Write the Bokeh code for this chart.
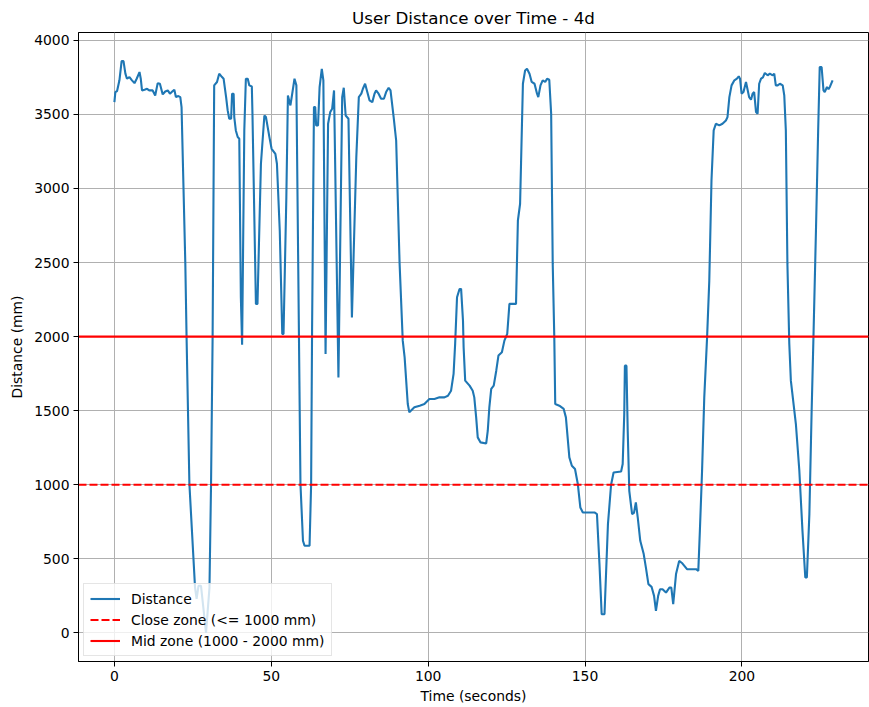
from bokeh.plotting import figure
from bokeh.models import Legend, LegendItem, FixedTicker, Range1d
from bokeh.embed import file_html
from bokeh.resources import INLINE

# ---- data ----
time_s = [
    0.0, 0.3, 0.85, 1.6, 2.3, 2.9, 3.5, 4.0, 4.8, 5.6, 6.4, 7.1, 8.0, 8.4, 8.8, 9.6,
    10.4, 11.1, 12.2, 13.0, 13.8, 14.5, 15.4, 16.2, 17.0, 17.7, 18.6, 19.1, 19.6, 20.4,
    21.0, 21.4, 22.6, 23.0, 23.9, 25.7, 26.2, 26.8, 27.6, 29.2, 30.3, 30.8, 31.3, 31.8,
    32.7, 33.4, 34.3, 34.8, 35.6, 36.1, 36.6, 37.2, 37.5, 38.0, 38.2, 38.7, 39.3, 39.8,
    40.3, 40.7, 41.4, 41.9, 42.5, 43.0, 43.8, 44.0, 45.1, 45.6, 46.7, 47.8, 48.3, 49.4,
    50.1, 51.3, 51.8, 52.7, 53.5, 53.9, 54.8, 55.3, 56.1, 57.4, 58.0, 59.3, 60.1, 60.6,
    62.2, 62.7, 63.0, 63.6, 64.0, 64.3, 64.9, 65.4, 66.1, 66.6, 67.3, 68.1, 68.8, 69.4,
    70.0, 71.4, 72.6, 73.1, 73.7, 74.6, 75.7, 77.1, 77.9, 78.7, 79.2, 79.9, 80.6, 81.3,
    82.2, 82.9, 83.4, 84.2, 85.0, 85.9, 86.6, 87.4, 88.0, 89.0, 89.8, 90.9, 91.9, 92.5,
    93.5, 94.0, 95.6, 97.3, 98.8, 100.4, 102.0, 103.6, 105.2, 106.3, 107.3, 108.1, 108.6,
    109.2, 110.0, 110.5, 111.1, 111.3, 111.8, 113.2, 114.2, 114.7, 115.3, 115.8, 116.7,
    118.5, 119.0, 119.5, 120.1, 120.9, 121.7, 122.4, 123.5, 124.3, 125.2, 125.9, 126.9,
    128.0, 128.6, 129.3, 129.6, 130.2, 130.9, 131.5, 132.3, 133.0, 133.9, 134.7, 135.1,
    135.8, 136.5, 137.3, 137.9, 138.6, 139.2, 139.7, 140.2, 140.5, 141.8, 143.2, 143.9,
    145.0, 145.8, 146.8, 147.7, 148.5, 149.3, 150.9, 153.0, 153.8, 154.6, 155.3, 156.2,
    157.3, 158.3, 159.1, 161.5, 162.0, 162.5, 162.7, 163.2, 163.6, 164.1, 165.0, 165.6,
    166.2, 166.8, 167.6, 168.7, 169.4, 170.2, 171.2, 172.0, 172.6, 173.3, 173.9, 174.7,
    175.8, 176.9, 177.5, 178.1, 179.0, 180.0, 181.0, 182.5, 184.3, 185.4, 186.1, 186.6,
    187.3, 188.0, 188.9, 189.6, 190.3, 191.0, 191.7, 192.8, 193.8, 194.9, 195.4, 196.0,
    196.7, 197.6, 198.4, 199.0, 199.4, 199.9, 200.5, 201.3, 202.3, 202.9, 203.4, 203.9,
    204.5, 205.0, 205.5, 206.1, 206.7, 207.3, 208.2, 208.9, 209.8, 210.3, 210.8, 211.4,
    212.1, 213.0, 213.5, 214.0, 214.5, 215.1, 215.6, 217.2, 218.3, 219.3, 220.2, 220.7,
    221.5, 222.2, 222.8, 223.6, 224.3, 224.8, 225.4, 226.0, 226.4, 227.1, 227.6, 228.1,
    228.9,
]
distance_mm = [
    3583, 3651, 3658, 3730, 3860, 3860, 3775, 3741, 3752, 3730, 3711, 3741, 3786, 3741, 3662, 3667,
    3673, 3662, 3662, 3628, 3711, 3707, 3635, 3655, 3662, 3640, 3658, 3667, 3617, 3624,
    3617, 3550, 2493, 1995, 1005, 306, 230, 318, 318, 0, 306, 1005, 1995, 3696,
    3719, 3775, 3752, 3741, 3617, 3527, 3471, 3471, 3640, 3640, 3482, 3392, 3347, 3336,
    2266, 1945, 3392, 3741, 3741, 3696, 3689, 3505, 2221, 2221, 3167, 3493, 3482, 3347,
    3268, 3234, 3167, 2716, 2018, 2018, 2941, 3628, 3561, 3741, 3696, 1005, 622, 588,
    588, 1005, 2041, 3550, 3550, 3426, 3426, 3685, 3808, 3730, 1883, 3437, 3516, 3538,
    3662, 1725, 3617, 3680, 3493, 3471, 2130, 3212, 3617, 3640, 3673, 3707, 3651, 3595,
    3583, 3640, 3662, 3640, 3606, 3606, 3651, 3680, 3662, 3482, 3324, 2491, 1973, 1860,
    1545, 1489, 1523, 1534, 1545, 1579, 1579, 1590, 1590, 1601, 1635, 1748, 1951,
    2266, 2322, 2322, 2108, 1928, 1703, 1669, 1635, 1590, 1455, 1320, 1286,
    1279, 1365, 1523, 1647, 1669, 1770, 1872, 1894, 1973, 2018, 2221, 2221,
    2221, 2784, 2897, 3167, 3707, 3797, 3808, 3775, 3719, 3707, 3640, 3617,
    3696, 3730, 3719, 3741, 3734, 3505, 2491, 1995, 1545, 1534, 1512, 1455,
    1185, 1128, 1106, 1005, 847, 813, 813, 813, 802, 464, 126, 126,
    734, 1000, 1083, 1090, 1140, 1478, 1804, 1804, 1365, 959, 802, 810,
    881, 779, 622, 532, 441, 329, 311, 250, 149, 250, 295, 295,
    272, 306, 306, 194, 397, 486, 470, 430, 430, 430, 419, 689,
    1095, 1590, 1995, 2378, 3054, 3392, 3437, 3426, 3437, 3459, 3482, 3617,
    3696, 3730, 3741, 3757, 3741, 3640, 3651, 3719, 3617, 3599, 3640, 3651,
    3516, 3505, 3707, 3741, 3750, 3780, 3764, 3775, 3764, 3775, 3696, 3696,
    3707, 3696, 3628, 3392, 2491, 1951, 1703, 1410, 1095, 689, 374, 374,
    802, 1478, 1995, 2716, 3392, 3820, 3820, 3662, 3651, 3685, 3670, 3689,
    3730,
]
CLOSE_LIMIT = 1000
MID_LIMIT = 2000
x_ticks = [0, 50, 100, 150, 200]
y_ticks = [0, 500, 1000, 1500, 2000, 2500, 3000, 3500, 4000]

title_text = "User Distance over Time - 4d"
x_label = "Time (seconds)"
y_label = "Distance (mm)"
label_distance = "Distance"
label_close = "Close zone (<= 1000 mm)"
label_mid = "Mid zone (1000 - 2000 mm)"

FONT = "DejaVu Sans"

# matplotlib-like 5% margins
t_span = max(time_s) - min(time_s)
d_span = max(distance_mm) - min(distance_mm)
x_range = Range1d(min(time_s) - 0.05 * t_span, max(time_s) + 0.05 * t_span)
y_range = Range1d(min(distance_mm) - 0.05 * d_span, max(distance_mm) + 0.05 * d_span)

p = figure(width=869, height=707, output_backend="svg", toolbar_location=None,
           x_range=x_range, y_range=y_range, title=title_text,
           min_border_left=78, min_border_right=1, min_border_top=32,
           min_border_bottom=46)
p.background_fill_color = "white"
p.border_fill_color = "white"
p.outline_line_color = "black"
p.outline_line_width = 1

p.title.align = "center"
p.title.text_font = FONT
p.title.text_font_size = "16.7px"
p.title.text_font_style = "normal"
p.title.text_color = "black"

for ax in (p.xaxis[0], p.yaxis[0]):
    ax.axis_line_color = "black"
    ax.major_tick_line_color = "black"
    ax.major_tick_out = 5
    ax.major_tick_in = 0
    ax.minor_tick_line_color = None
    ax.major_label_text_font = FONT
    ax.major_label_text_font_size = "13.9px"
    ax.major_label_text_color = "black"
    ax.axis_label_text_font = FONT
    ax.axis_label_text_font_size = "13.9px"
    ax.axis_label_text_font_style = "normal"
    ax.axis_label_text_color = "black"
    ax.major_label_standoff = 4

p.xaxis.ticker = FixedTicker(ticks=x_ticks)
p.yaxis.ticker = FixedTicker(ticks=y_ticks)
p.xgrid.ticker = FixedTicker(ticks=x_ticks)
p.ygrid.ticker = FixedTicker(ticks=y_ticks)
p.xaxis.axis_label = x_label
p.yaxis.axis_label = y_label
p.xaxis.axis_label_standoff = 4
p.yaxis.axis_label_standoff = 6

for g in (p.xgrid[0], p.ygrid[0]):
    g.grid_line_color = "#b0b0b0"
    g.grid_line_width = 1

r_dist = p.line(time_s, distance_mm, line_color="#1f77b4", line_width=2.1)

# horizontal zone lines spanning the whole x range (drawn over the data line)
span_x = [x_range.start, x_range.end]
r_close = p.line(span_x, [CLOSE_LIMIT, CLOSE_LIMIT], line_color="red",
                 line_width=2.1, line_dash="8 3")
r_mid = p.line(span_x, [MID_LIMIT, MID_LIMIT], line_color="red", line_width=2.1)

legend = Legend(items=[
    LegendItem(label=label_distance, renderers=[r_dist]),
    LegendItem(label=label_close, renderers=[r_close]),
    LegendItem(label=label_mid, renderers=[r_mid]),
], location="bottom_left")
legend.margin = 5
legend.padding = 6
legend.spacing = 4
legend.glyph_width = 30
legend.glyph_height = 17
legend.label_height = 17
legend.label_standoff = 11
legend.label_text_font = FONT
legend.label_text_font_size = "13.9px"
legend.label_text_color = "black"
legend.border_line_color = "#cccccc"
legend.border_line_width = 1
legend.background_fill_color = "white"
legend.background_fill_alpha = 0.8
p.add_layout(legend)

open("out.html", "w").write(file_html(p, INLINE))
